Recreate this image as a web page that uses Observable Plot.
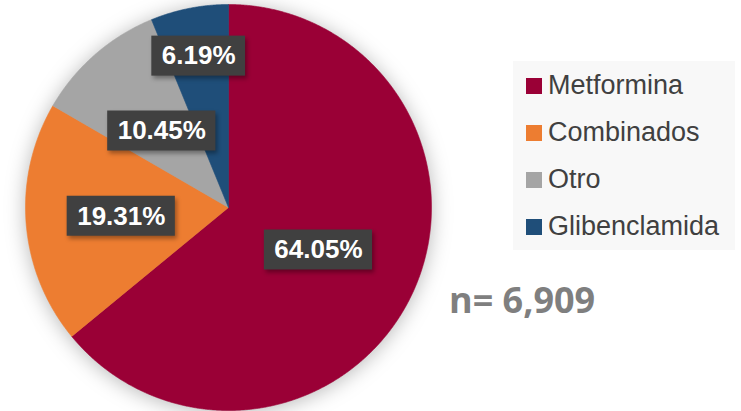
<!DOCTYPE html>
<html><head><meta charset="utf-8">
<script src="https://cdn.jsdelivr.net/npm/d3@7"></script>
<script src="https://cdn.jsdelivr.net/npm/@observablehq/plot@0.6"></script>
<style>
html,body{margin:0;padding:0;background:#fff;}
#wrap{position:relative;width:741px;height:411px;overflow:hidden;background:#fff;font-family:"Liberation Sans",Arial,sans-serif;}
#wrap svg{display:block;background:transparent !important;}
#wrap svg g.slices{filter:drop-shadow(0px 2px 10px rgba(0,0,0,0.28));}
#wrap svg rect.lbox{filter:drop-shadow(2px 3px 2px rgba(0,0,0,0.35));}
#legend{position:absolute;left:513px;top:61px;width:222px;height:189px;background:#f8f8f8;padding-top:1px;box-sizing:border-box;}
#legend .row{height:47px;display:flex;align-items:center;padding-left:13px;}
#legend .sw{width:16px;height:16px;margin-right:6px;flex:none;}
#legend .lab{font-size:27px;color:#404040;line-height:47px;white-space:nowrap;}
#ntext{position:absolute;left:449px;top:282px;font-family:"Open Sans",sans-serif;font-weight:700;font-size:36px;line-height:36px;color:#7f7f7f;white-space:nowrap;}
</style></head>
<body><div id="wrap"></div>
<script>
// ---- data ----
const categories = ["Metformina", "Combinados", "Otro", "Glibenclamida"];
const shares = [64.05, 19.31, 10.45, 6.19];
const valueLabels = ["64.05%", "19.31%", "10.45%", "6.19%"];
const sampleLabel = "n= 6,909";

// ---- style / layout ----
const colors = ["#9a0036", "#ed7d31", "#a5a5a5", "#1f4e79"];
const labelRadius = [0.49, 0.53, 0.50, 0.76];

const arcs = d3.pie().sort(null).value(d => d)(shares);

// slice polygons in unit-circle data space (angle 0 at top, clockwise)
const slicePts = [];
arcs.forEach((a, i) => {
  const cat = categories[i];
  slicePts.push({cat, x: 0, y: 0});
  const n = Math.max(4, Math.ceil((a.endAngle - a.startAngle) / 0.005));
  for (let k = 0; k <= n; k++) {
    const t = a.startAngle + (a.endAngle - a.startAngle) * k / n;
    slicePts.push({cat, x: Math.sin(t), y: Math.cos(t)});
  }
  slicePts.push({cat, x: 0, y: 0});
});

const labelData = arcs.map((a, i) => {
  const m = (a.startAngle + a.endAngle) / 2;
  return {cat: categories[i], label: valueLabels[i], x: labelRadius[i] * Math.sin(m), y: labelRadius[i] * Math.cos(m)};
});

const FONT = "bold 26px 'Liberation Sans', Arial, sans-serif";

function withBoxes(index, scales, values, dims, ctx, next) {
  const g = next(index, scales, values, dims, ctx);
  const cv = document.createElement("canvas").getContext("2d");
  cv.font = FONT;
  const wrap = d3.create("svg:g");
  for (const i of index) {
    const w = cv.measureText(labelData[i].label).width;
    wrap.append("rect").attr("class", "lbox")
      .attr("x", values.x[i] - w / 2 - 10).attr("y", values.y[i] - 20)
      .attr("width", w + 20).attr("height", 40).attr("fill", "#404040");
  }
  wrap.node().appendChild(g);
  return wrap.node();
}

const chart = Plot.plot({
  width: 741, height: 411,
  marginLeft: 25, marginRight: 310, marginTop: 4, marginBottom: 1,
  x: {domain: [-1, 1], axis: null},
  y: {domain: [-1, 1], axis: null},
  color: {domain: categories, range: colors},
  style: {background: "transparent"},
  marks: [
    Plot.line(slicePts, {x: "x", y: "y", z: "cat", fill: "cat", stroke: "cat", strokeWidth: 0.6, curve: "linear", className: "slices"}),
    Plot.text(labelData, {x: "x", y: "y", text: "label", fill: "white", fontSize: 26, fontWeight: "bold",
      fontFamily: "'Liberation Sans', Arial, sans-serif", render: withBoxes})
  ]
});

const wrapEl = document.getElementById("wrap");
wrapEl.appendChild(chart);

const legend = document.createElement("div");
legend.id = "legend";
categories.forEach((c, i) => {
  const row = document.createElement("div");
  row.className = "row";
  const sw = document.createElement("span");
  sw.className = "sw"; sw.style.background = colors[i];
  const lab = document.createElement("span");
  lab.className = "lab"; lab.textContent = c;
  row.appendChild(sw); row.appendChild(lab);
  legend.appendChild(row);
});
wrapEl.appendChild(legend);

const nt = document.createElement("div");
nt.id = "ntext"; nt.textContent = sampleLabel;
wrapEl.appendChild(nt);
</script>
</body></html>
